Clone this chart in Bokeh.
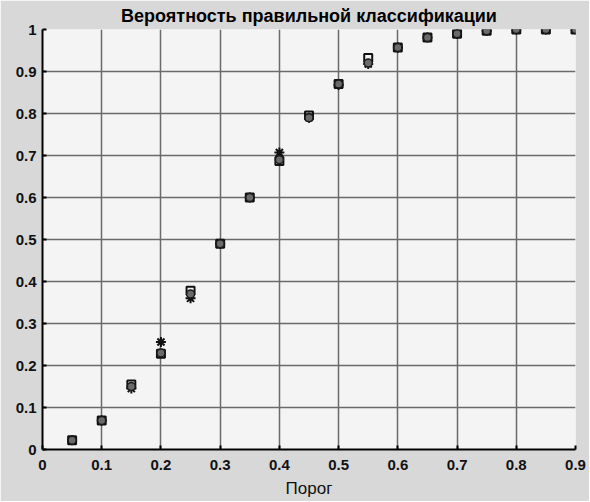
from bokeh.plotting import figure
from bokeh.models import FixedTicker, CustomJSTickFormatter, Range1d
from bokeh.embed import file_html
from bokeh.resources import INLINE

threshold = [0.05, 0.10, 0.15, 0.20, 0.25, 0.30, 0.35, 0.40, 0.45,
             0.50, 0.55, 0.60, 0.65, 0.70, 0.75, 0.80, 0.85, 0.90]
series_circle = [0.022, 0.069, 0.150, 0.230, 0.370, 0.490, 0.600, 0.690, 0.790,
                 0.870, 0.920, 0.957, 0.981, 0.990, 0.997, 1.000, 1.000, 1.000]
series_square = [0.022, 0.069, 0.155, 0.228, 0.378, 0.490, 0.600, 0.687, 0.795,
                 0.870, 0.932, 0.957, 0.981, 0.990, 0.997, 1.000, 1.000, 1.000]
series_star = [0.022, 0.069, 0.145, 0.256, 0.360, 0.490, 0.600, 0.707, 0.790,
               0.868, 0.918, 0.957, 0.981, 0.990, 0.997, 1.000, 1.000, 1.000]
x_ticks = [0, 0.1, 0.2, 0.3, 0.4, 0.5, 0.6, 0.7, 0.8, 0.9]
y_ticks = [0, 0.1, 0.2, 0.3, 0.4, 0.5, 0.6, 0.7, 0.8, 0.9, 1.0]
title_text = "Вероятность правильной классификации"
x_label = "Порог"

p = figure(width=589, height=501, output_backend="svg", toolbar_location=None,
           x_range=Range1d(0, 0.9), y_range=Range1d(0, 1),
           min_border_left=42, min_border_right=14, min_border_top=27, min_border_bottom=52)

p.title.text = title_text
p.title.align = "center"
p.title.text_font = "Liberation Sans"
p.title.text_font_style = "bold"
p.title.text_font_size = "18px"
p.title.text_color = "#000000"
p.title.offset = 0
p.title.standoff = 7

p.border_fill_color = "#d8d8d8"
p.background_fill_color = "#f4f4f4"
p.outline_line_color = None

fmt = CustomJSTickFormatter(code="return String(Math.round(tick*10)/10);")
for ax, ticks in ((p.xaxis, x_ticks), (p.yaxis, y_ticks)):
    ax.ticker = FixedTicker(ticks=ticks)
    ax.formatter = fmt
    ax.axis_line_color = "#000000"
    ax.axis_line_width = 2
    ax.major_tick_in = 4
    ax.major_tick_out = 0
    ax.major_tick_line_color = "#000000"
    ax.major_tick_line_width = 2
    ax.minor_tick_line_color = None
    ax.major_label_text_font = "Liberation Sans"
    ax.major_label_text_font_style = "bold"
    ax.major_label_text_font_size = "15px"
    ax.major_label_text_color = "#111111"

p.xaxis.major_label_standoff = 10
p.yaxis.major_label_standoff = 6
p.xaxis.axis_label = x_label
p.xaxis.axis_label_text_font = "Liberation Sans"
p.xaxis.axis_label_text_font_style = "normal"
p.xaxis.axis_label_text_font_size = "17px"
p.xaxis.axis_label_text_color = "#111111"
p.xaxis.axis_label_standoff = 6

p.xgrid.ticker = FixedTicker(ticks=x_ticks)
p.ygrid.ticker = FixedTicker(ticks=y_ticks)
for g in (p.xgrid, p.ygrid):
    g.grid_line_color = "#6a6a6a"
    g.grid_line_width = 1.5
    g.grid_line_alpha = 1.0

p.scatter(threshold, series_star, marker="asterisk", size=10,
          line_color="#111111", line_width=2)
p.scatter(threshold, series_square, marker="square", size=8,
          fill_color=None, line_color="#111111", line_width=2)
p.scatter(threshold, series_circle, marker="circle", size=8,
          fill_color="#6a6a6a", line_color="#1a1a1a", line_width=1.5)

open("out.html", "w").write(file_html(p, INLINE))
